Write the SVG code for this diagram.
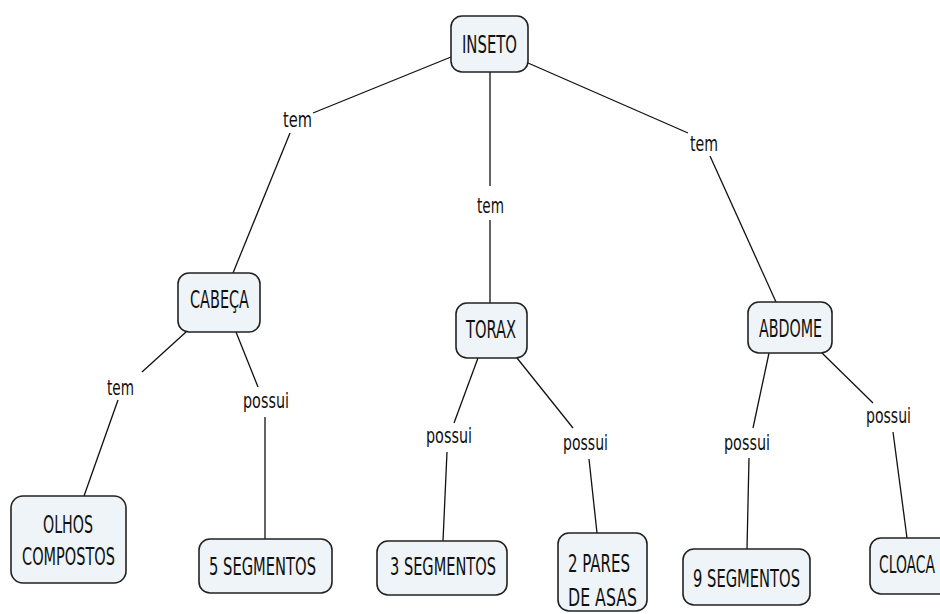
<svg xmlns="http://www.w3.org/2000/svg" width="940" height="614" viewBox="0 0 940 614">
  <style>
    .node rect { fill: #eef4f7; stroke: #222; stroke-width: 1.6; }
    .node text { font-family: "DejaVu Sans Condensed", "DejaVu Sans", sans-serif; font-size: 24px; fill: #111; text-anchor: middle; }
    .lbl { font-family: "DejaVu Sans Condensed", "DejaVu Sans", sans-serif; font-size: 22px; fill: #111; text-anchor: middle; }
    .links line { stroke: #111; stroke-width: 1.3; }
  </style>
  <rect width="940" height="614" fill="#ffffff"/>

  <g class="links">
    <line x1="451" y1="57" x2="313" y2="113"/>
    <line x1="290" y1="133" x2="233" y2="273"/>
    <line x1="490" y1="72" x2="490" y2="186"/>
    <line x1="490" y1="220" x2="490" y2="303"/>
    <line x1="528" y1="63" x2="688" y2="133"/>
    <line x1="710" y1="156" x2="776" y2="302"/>
    <line x1="186" y1="332" x2="142" y2="372"/>
    <line x1="118" y1="400" x2="84" y2="496"/>
    <line x1="236" y1="332" x2="258" y2="387"/>
    <line x1="265" y1="417" x2="265" y2="539"/>
    <line x1="478" y1="358" x2="454" y2="423"/>
    <line x1="447" y1="452" x2="443" y2="541"/>
    <line x1="517" y1="358" x2="573" y2="428"/>
    <line x1="589" y1="459" x2="597" y2="533"/>
    <line x1="769" y1="353" x2="753" y2="428"/>
    <line x1="749" y1="458" x2="747" y2="549"/>
    <line x1="822" y1="353" x2="873" y2="403"/>
    <line x1="893" y1="432" x2="907" y2="538"/>
  </g>

  <g class="labels">
    <text class="lbl" x="297.5" y="127" textLength="29" lengthAdjust="spacingAndGlyphs">tem</text>
    <text class="lbl" x="490.5" y="213" textLength="27" lengthAdjust="spacingAndGlyphs">tem</text>
    <text class="lbl" x="704" y="151" textLength="28" lengthAdjust="spacingAndGlyphs">tem</text>
    <text class="lbl" x="120.5" y="395" textLength="27" lengthAdjust="spacingAndGlyphs">tem</text>
    <text class="lbl" x="266" y="408" textLength="46" lengthAdjust="spacingAndGlyphs">possui</text>
    <text class="lbl" x="449" y="443" textLength="46" lengthAdjust="spacingAndGlyphs">possui</text>
    <text class="lbl" x="585.5" y="450" textLength="45" lengthAdjust="spacingAndGlyphs">possui</text>
    <text class="lbl" x="747" y="450" textLength="46" lengthAdjust="spacingAndGlyphs">possui</text>
    <text class="lbl" x="888.5" y="423" textLength="45" lengthAdjust="spacingAndGlyphs">possui</text>
  </g>

  <g id="inseto" class="node">
    <rect x="451" y="16" width="77" height="56" rx="11"/>
    <text x="489.5" y="53" textLength="55" lengthAdjust="spacingAndGlyphs">INSETO</text>
  </g>
  <g id="cabeca" class="node">
    <rect x="178" y="273" width="82" height="59" rx="11"/>
    <text x="219.5" y="308" textLength="59" lengthAdjust="spacingAndGlyphs">CABEÇA</text>
  </g>
  <g id="torax" class="node">
    <rect x="456" y="303" width="71" height="55" rx="11"/>
    <text x="491" y="338" textLength="50" lengthAdjust="spacingAndGlyphs">TORAX</text>
  </g>
  <g id="abdome" class="node">
    <rect x="748" y="302" width="84" height="51" rx="11"/>
    <text x="790.5" y="337" textLength="63" lengthAdjust="spacingAndGlyphs">ABDOME</text>
  </g>
  <g id="olhos-compostos" class="node">
    <rect x="11" y="496" width="115" height="87" rx="12"/>
    <text x="68" y="533" textLength="50" lengthAdjust="spacingAndGlyphs">OLHOS</text>
    <text x="68.5" y="565" textLength="93" lengthAdjust="spacingAndGlyphs">COMPOSTOS</text>
  </g>
  <g id="cinco-segmentos" class="node">
    <rect x="199" y="539" width="133" height="54" rx="11"/>
    <text x="262.5" y="575" textLength="107" lengthAdjust="spacingAndGlyphs">5 SEGMENTOS</text>
  </g>
  <g id="tres-segmentos" class="node">
    <rect x="377" y="541" width="130" height="54" rx="11"/>
    <text x="443" y="575" textLength="106" lengthAdjust="spacingAndGlyphs">3 SEGMENTOS</text>
  </g>
  <g id="dois-pares-asas" class="node">
    <rect x="558" y="533" width="89" height="78" rx="11"/>
    <text x="599" y="572" textLength="62" lengthAdjust="spacingAndGlyphs">2 PARES</text>
    <text x="602.5" y="606" textLength="69" lengthAdjust="spacingAndGlyphs">DE ASAS</text>
  </g>
  <g id="nove-segmentos" class="node">
    <rect x="683" y="549" width="127" height="56" rx="11"/>
    <text x="746.5" y="587" textLength="107" lengthAdjust="spacingAndGlyphs">9 SEGMENTOS</text>
  </g>
  <g id="cloaca" class="node">
    <rect x="870" y="538" width="90" height="56" rx="11"/>
    <text x="907" y="573" textLength="56" lengthAdjust="spacingAndGlyphs">CLOACA</text>
  </g>
</svg>
